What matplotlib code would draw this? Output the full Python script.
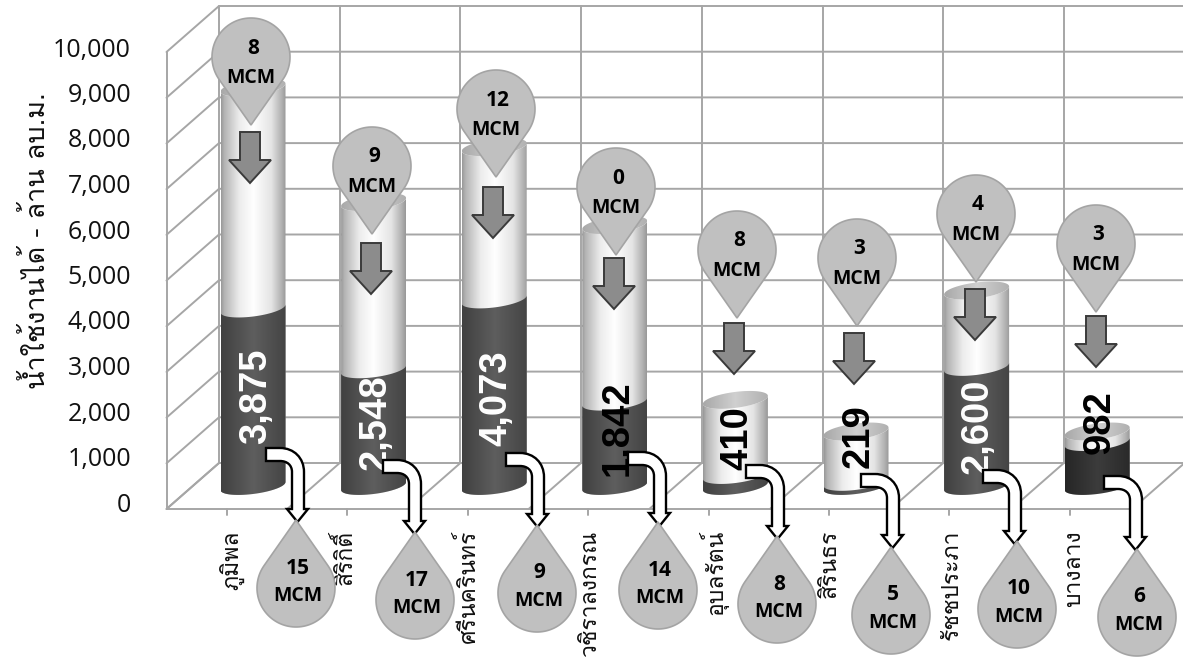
import matplotlib
matplotlib.use("Agg")
import matplotlib.pyplot as plt
import numpy as np
from matplotlib import font_manager as fm
from matplotlib.colors import LinearSegmentedColormap
from matplotlib.patches import PathPatch, Polygon
from matplotlib.path import Path

# data
dams = ["ภูมิพล", "สิริกิติ์", "ศรีนครินทร์", "วชิราลงกรณ", "อุบลรัตน์", "สิรินธร", "รัชชประภา", "บางลาง"]
labels = ["3,875", "2,548", "4,073", "1,842", "410", "219", "2,600", "982"]
dark_vals = [3875, 2548, 4073, 1842, 240, 90, 2600, 960]
total_vals = [8700, 6200, 7400, 5700, 1880, 1190, 4270, 1190]
top_mcm = [8, 9, 12, 0, 8, 3, 4, 3]
bottom_mcm = [15, 17, 9, 14, 8, 5, 10, 6]
yticks = [0, 1000, 2000, 3000, 4000, 5000, 6000, 7000, 8000, 9000, 10000]
ylabel = "น้ำใช้งานได้ - ล้าน ลบ.ม."

W, H = 1183, 664
BAR_STEP = 120.6
BAR_X0 = 253
BASE_PX = 486
PX_PER_UNIT = 0.0458

# layout in pixels
label_pos = [(256, 396), (376, 422), (496, 398), (618, 428), (737, 438), (859, 436), (978, 426), (1100, 422)]
top_pin_tip = [(251, 125), (372, 234), (496, 177), (616, 255), (737, 318), (857, 326), (976, 282), (1096, 312)]
bot_pin_tip = [(296, 520), (415, 532), (537, 525), (658, 522), (777, 536), (891, 547), (1017, 541), (1137, 549)]
grey_arrow = [(250, 132), (371, 243), (493, 187), (614, 258), (734, 323), (854, 333), (975, 289), (1096, 316)]
white_arrow = [(266, 448), (383, 460), (506, 453), (628, 452), (746, 465), (861, 474), (983, 470), (1104, 476)]
cat_x = [232, 345, 468, 590, 713, 830, 952, 1075]


def find_thai_font():
    for f in fm.fontManager.ttflist:
        try:
            if 0x0E19 in fm.get_font(f.fname).get_charmap():
                return f.name
        except Exception:
            pass
    return None


thai = find_thai_font()
latin_font = ["Open Sans", "DejaVu Sans"]
thai_font = ([thai] if thai else []) + ["Noto Sans", "DejaVu Sans"]


def X(px):
    return (np.asarray(px, dtype=float) - BAR_X0) / BAR_STEP


def Y(py):
    return (BASE_PX - np.asarray(py, dtype=float)) / PX_PER_UNIT


fig = plt.figure(figsize=(W / 100, H / 100), dpi=100, facecolor="white")
ax = fig.add_axes([0, 0, 1, 1])
ax.set_xlim(X(0), X(W))
ax.set_ylim(Y(H), Y(0))
ax.axis("off")

# walls and floor
grid = dict(color="#a6a6a6", lw=1.4, zorder=1, solid_capstyle="round")
for t in yticks:
    back = 463 - t * 0.0457
    ax.plot(X([166.5, 219, W]), Y([back + 46, back, back]), **grid)
for k in range(9):
    vx = 219 + 120.7 * k
    ax.plot(X([vx, vx]), Y([6, 463]), **grid)
    ax.plot(X([vx, vx - 52.5]), Y([463, 509]), **grid)
ax.plot(X([166.5, 166.5]), Y([509 - 457, 509]), **grid)
ax.plot(X([166.5, 1132]), Y([509, 509]), **grid)
for i in range(len(dams)):
    tx = 227 + 120.4 * i
    ax.plot(X([tx, tx]), Y([509, 515]), **grid)

# cylinders
half_w = 32.5 / BAR_STEP
ell_b = 8 / PX_PER_UNIT
ell_tilt = 4 / PX_PER_UNIT
light_cmap = LinearSegmentedColormap.from_list(
    "light", [(0, "#999999"), (0.05, "#b4b4b4"), (0.28, "#ececec"), (0.5, "#ffffff"), (0.78, "#e4e4e4"), (0.95, "#adadad"), (1, "#999999")])
dark_cmap = LinearSegmentedColormap.from_list(
    "dark", [(0, "#404040"), (0.5, "#5e5e5e"), (1, "#444444")])
darker_cmap = LinearSegmentedColormap.from_list(
    "darker", [(0, "#262626"), (0.5, "#3c3c3c"), (1, "#2a2a2a")])
cap_cmap = LinearSegmentedColormap.from_list(
    "cap", [(0, "#a8a8a8"), (0.5, "#d0d0d0"), (1, "#b0b0b0")])
ramp = np.linspace(0, 1, 128).reshape(1, -1)


def shade(cx, y0, y1, cmap, verts, zorder):
    im = ax.imshow(ramp, cmap=cmap, aspect="auto", zorder=zorder,
                   extent=(cx - half_w, cx + half_w, y0, y1), interpolation="bilinear")
    im.set_clip_path(PathPatch(Path(verts, closed=False), transform=ax.transData))


def body(cx, v0, v1):
    t = np.linspace(np.pi, 2 * np.pi, 40)
    low = np.c_[cx + half_w * np.cos(t), v0 + ell_b * np.sin(t) + ell_tilt * np.cos(t)]
    up = np.c_[cx + half_w * np.cos(t[::-1]), v1 + ell_b * np.sin(t[::-1]) + ell_tilt * np.cos(t[::-1])]
    return np.vstack([low, up, low[:1]])


def cap(cx, v):
    t = np.linspace(0, 2 * np.pi, 80)
    return np.c_[cx + half_w * np.cos(t), v + ell_b * np.sin(t) + ell_tilt * np.cos(t)]


for i in range(len(dams)):
    pad = 300
    shade(i, -pad, total_vals[i] + pad, light_cmap, body(i, 0, total_vals[i]), 2)
    cm = darker_cmap if i == 7 else dark_cmap
    shade(i, -pad, dark_vals[i] + pad, cm, body(i, 0, dark_vals[i]), 3)
    shade(i, total_vals[i] - pad, total_vals[i] + pad, cap_cmap, cap(i, total_vals[i]), 4)

# value labels on the cylinders
for i, txt in enumerate(labels):
    col = "white" if i in (0, 1, 2, 6) else "black"
    ax.text(X(label_pos[i][0]), Y(label_pos[i][1]), txt, rotation=90, ha="center", va="center",
            color=col, fontsize=27.5, fontweight="bold", family="Liberation Sans", zorder=6)


# grey arrows
def grey_down(px, py):
    pts = [(-10, 0), (10, 0), (10, 28), (21, 28), (0, 51), (-21, 28), (-10, 28)]
    pts = [(X(px + a), Y(py + b)) for a, b in pts]
    ax.add_patch(Polygon(pts, closed=True, fc="#8c8c8c", ec="#3a3a3a", lw=1.4, zorder=7))


# white elbow arrows
def white_elbow(px, py):
    codes = [Path.MOVETO, Path.LINETO, Path.CURVE4, Path.CURVE4, Path.CURVE4, Path.LINETO, Path.LINETO,
             Path.LINETO, Path.LINETO, Path.LINETO, Path.LINETO, Path.CURVE4, Path.CURVE4, Path.CURVE4,
             Path.LINETO, Path.CLOSEPOLY]
    pts = [(0, 0), (14, 0), (28, 0), (38, 10), (38, 24), (38, 61), (42, 61), (31.5, 74), (21, 61), (26, 61),
           (26, 24), (26, 17), (21, 13), (14, 13), (0, 13), (0, 0)]
    pts = [(X(px + a), Y(py + b)) for a, b in pts]
    ax.add_patch(PathPatch(Path(pts, codes), fc="white", ec="black", lw=1.7, zorder=8))


# teardrop pins
def pin(tx, ty, up, num):
    r, d = 39, 68
    a = np.arcsin(r / d)
    s = 1 if up else -1
    th = np.linspace(-a, np.pi + a, 80)
    xs = tx + r * np.cos(th)
    ys = ty + s * (d + r * np.sin(th))
    pts = np.r_[[[X(tx), Y(ty)]], np.c_[X(xs), Y(ys)]]
    ax.add_patch(Polygon(pts, closed=True, fc="#c0c0c0", ec="#a4a4a4", lw=1.2, zorder=9))
    n_dy, m_dy = (48, 76) if up else (-77, -47)
    ax.text(X(tx + 2), Y(ty + n_dy), str(num), ha="center", va="center", fontsize=15,
            fontweight="bold", family=latin_font, zorder=10)
    ax.text(X(tx + 2 if up else tx), Y(ty + m_dy), "MCM", ha="center", va="center", fontsize=14,
            fontweight="bold", family=latin_font, zorder=10)


for i in range(len(dams)):
    grey_down(*grey_arrow[i])
    white_elbow(*white_arrow[i])
    pin(*top_pin_tip[i], False, top_mcm[i])
    pin(*bot_pin_tip[i], True, bottom_mcm[i])

# axis text
for t in yticks:
    ax.text(X(131), Y(505 - t * 0.0455), f"{t:,}", ha="right", va="center", fontsize=18,
            color="#111111", family=latin_font, zorder=5)
ax.text(X(36), Y(241), ylabel, rotation=90, ha="center", va="center", fontsize=19.5,
        color="#111111", family=thai_font)
for i, name in enumerate(dams):
    ax.text(X(cat_x[i]), Y(530), name, rotation=90, ha="center", va="top", fontsize=16.5,
            color="#111111", family=thai_font, zorder=5)

fig.savefig("out.png", dpi=100)
